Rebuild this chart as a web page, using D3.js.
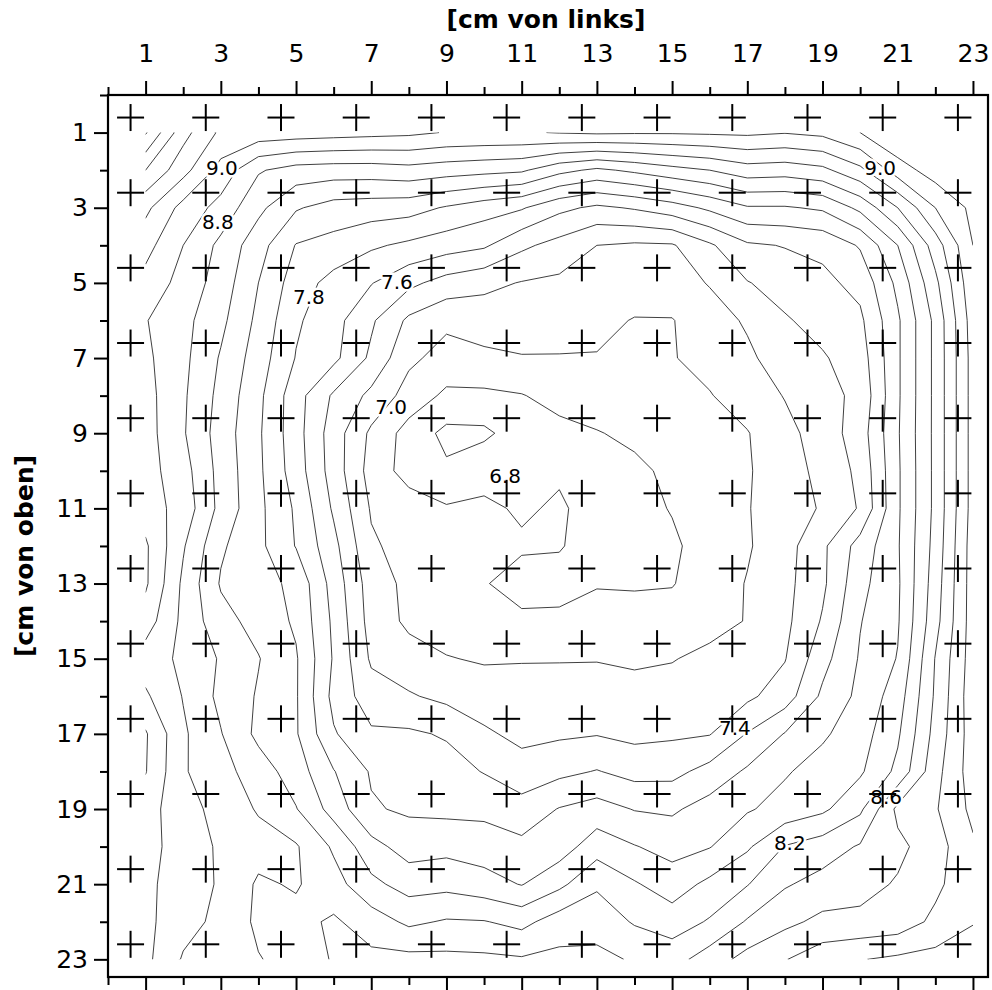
<!DOCTYPE html>
<html><head><meta charset="utf-8">
<script src="https://cdn.jsdelivr.net/npm/d3@7"></script>
<style>body{margin:0;background:#fff}</style>
</head><body>
<svg id="chart" width="992" height="990"></svg>
<script>
const gridX = [1,2,3,4,5,6,7,8,9,10,11,12,13,14,15,16,17,18,19,20,21,22,23];
const gridY = [1,2,3,4,5,6,7,8,9,10,11,12,13,14,15,16,17,18,19,20,21,22,23];
const row01=[10.02,9.47,9.16,9.12,9.1,9.08,9.06,9.04,8.99,8.98,8.98,9.01,9.03,9.02,9.02,9.03,9.04,9.01,9.05,9.2,9.4,9.3,9.35];
const row02=[9.6,9.27,8.93,8.62,8.52,8.5,8.5,8.53,8.49,8.46,8.43,8.26,8.16,8.24,8.33,8.4,8.51,8.49,8.55,8.75,9.1,9.3,9.25];
const row03=[9.25,8.93,8.73,8.45,8.22,8.12,8.1,8.08,7.98,7.89,7.82,7.65,7.56,7.62,7.71,7.84,7.98,7.98,8.03,8.25,8.6,9.0,9.25];
const row04=[9.07,8.8,8.55,8.28,7.99,7.93,7.83,7.76,7.69,7.63,7.44,7.33,7.2,7.17,7.18,7.37,7.57,7.61,7.65,7.82,8.2,8.7,9.2];
const row05=[8.93,8.73,8.51,8.2,7.9,7.73,7.61,7.45,7.32,7.25,7.19,7.16,7.13,7.1,7.13,7.21,7.39,7.48,7.55,7.66,8.05,8.55,9.15];
const row06=[8.81,8.66,8.45,8.15,7.83,7.67,7.43,7.16,7.04,7.09,7.09,7.08,7.05,6.99,6.99,7.13,7.22,7.38,7.47,7.56,7.97,8.45,9.1];
const row07=[8.84,8.65,8.38,8.1,7.79,7.65,7.36,7.04,6.93,6.96,6.99,6.99,6.99,6.98,6.99,7.06,7.17,7.28,7.38,7.5,7.97,8.45,9.08];
const row08=[8.87,8.63,8.34,8.05,7.68,7.37,7.15,6.92,6.76,6.76,6.79,6.87,6.9,6.91,6.96,6.99,7.09,7.21,7.33,7.45,7.97,8.45,9.08];
const row09=[8.88,8.62,8.31,8.03,7.68,7.3,6.96,6.72,6.55,6.56,6.7,6.74,6.79,6.84,6.88,6.94,6.99,7.14,7.29,7.5,7.98,8.45,9.08];
const row10=[8.88,8.68,8.33,8.04,7.7,7.31,6.92,6.72,6.63,6.74,6.79,6.78,6.72,6.76,6.84,6.92,6.98,7.12,7.25,7.45,7.97,8.45,9.08];
const row11=[8.9,8.72,8.34,8.05,7.77,7.37,6.98,6.9,6.82,6.83,6.78,6.82,6.74,6.74,6.81,6.9,6.99,7.1,7.22,7.42,7.97,8.45,9.08];
const row12=[9.03,8.62,8.23,8.05,7.79,7.46,7.03,6.92,6.88,6.82,6.82,6.81,6.74,6.72,6.77,6.88,6.98,7.12,7.36,7.68,7.98,8.47,9.1];
const row13=[9.03,8.56,8.18,8.08,7.95,7.52,7.1,6.95,6.88,6.81,6.74,6.75,6.79,6.78,6.79,6.9,7.01,7.14,7.36,7.74,7.97,8.5,9.1];
const row14=[8.9,8.55,8.27,8.13,7.97,7.56,7.12,6.96,6.91,6.86,6.83,6.83,6.86,6.88,6.88,6.93,7.01,7.15,7.42,7.79,7.98,8.53,9.1];
const row15=[8.7,8.56,8.38,8.21,8.02,7.58,7.17,7.08,7.01,6.98,6.99,6.99,6.99,6.97,6.99,7.05,7.12,7.19,7.53,7.82,8.01,8.61,9.1];
const row16=[8.83,8.59,8.35,8.18,8.02,7.54,7.29,7.22,7.15,7.1,7.07,7.08,7.1,7.07,7.08,7.12,7.16,7.3,7.64,7.85,8.1,8.63,9.12];
const row17=[9.02,8.63,8.41,8.15,8.02,7.62,7.43,7.43,7.38,7.23,7.15,7.17,7.19,7.15,7.17,7.19,7.41,7.61,7.77,7.91,8.17,8.67,9.1];
const row18=[9.01,8.62,8.47,8.3,8.1,7.81,7.58,7.5,7.48,7.39,7.28,7.35,7.41,7.33,7.34,7.47,7.63,7.78,7.88,7.97,8.25,8.73,9.1];
const row19=[8.88,8.68,8.53,8.38,8.21,7.92,7.62,7.57,7.55,7.55,7.48,7.61,7.68,7.59,7.57,7.68,7.78,7.87,7.96,8.16,8.65,8.78,9.05];
const row20=[8.87,8.71,8.57,8.48,8.42,8.17,7.87,7.71,7.74,7.7,7.65,7.7,7.91,7.81,7.73,7.79,7.97,8.21,8.3,8.42,8.55,8.71,8.97];
const row21=[8.85,8.69,8.58,8.37,8.42,8.28,8.05,7.92,7.94,7.88,7.79,7.95,8.17,8.02,7.9,8.05,8.19,8.38,8.47,8.53,8.62,8.75,8.96];
const row22=[8.85,8.67,8.55,8.36,8.34,8.43,8.3,8.16,8.22,8.21,8.14,8.3,8.32,8.18,8.1,8.22,8.42,8.55,8.65,8.65,8.68,8.85,8.99];
const row23=[8.85,8.58,8.5,8.41,8.33,8.41,8.45,8.46,8.45,8.44,8.42,8.45,8.45,8.38,8.32,8.5,8.67,8.79,8.92,8.99,9.04,9.07,9.1];
const grid=[row01,row02,row03,row04,row05,row06,row07,row08,row09,row10,row11,row12,row13,row14,row15,row16,row17,row18,row19,row20,row21,row22,row23];

const levels=[6.6,6.8,7.0,7.2,7.4,7.6,7.8,8.0,8.2,8.4,8.6,8.8,9.0,9.2,9.4,9.6,9.8,10.0];
const markerX=[0.6,2.6,4.6,6.6,8.6,10.6,12.6,14.6,16.6,18.6,20.6,22.6];
const markerY=[0.6,2.6,4.6,6.6,8.6,10.6,12.6,14.6,16.6,18.6,20.6,22.6];
const majorTicks=[1,3,5,7,9,11,13,15,17,19,21,23];
const minorTicks=[0,2,4,6,8,10,12,14,16,18,20,22];
const contourLabels=[
  {text:"9.0",x:3.03,y:1.94},{text:"8.8",x:2.92,y:3.38},{text:"7.8",x:5.34,y:5.38},
  {text:"7.6",x:7.68,y:4.98},{text:"7.0",x:7.53,y:8.30},{text:"6.8",x:10.56,y:10.14},
  {text:"7.4",x:16.67,y:16.84},{text:"8.6",x:20.69,y:18.68},{text:"8.2",x:18.13,y:19.90},
  {text:"9.0",x:20.53,y:1.94}];
const xTitle="[cm von links]", yTitle="[cm von oben]";

const svg=d3.select("#chart");
const x=d3.scaleLinear().domain([0,23.4]).range([108,988]);
const y=d3.scaleLinear().domain([0,23.47]).range([95,977]);
const n=gridX.length;
const cx=d3.scaleLinear().domain([0.5,n-0.5]).range([x(gridX[0]),x(gridX[n-1])]);
const cy=d3.scaleLinear().domain([0.5,n-0.5]).range([y(gridY[0]),y(gridY[n-1])]);

svg.append("defs").append("clipPath").attr("id","dataclip").append("rect")
  .attr("x",x(gridX[0])).attr("y",y(gridY[0]))
  .attr("width",x(gridX[n-1])-x(gridX[0])).attr("height",y(gridY[n-1])-y(gridY[0]));

const contours=d3.contours().size([n,n]).thresholds(levels)(grid.flat());
const proj=d3.geoTransform({point(px,py){this.stream.point(cx(px),cy(py));}});
const path=d3.geoPath(proj);
svg.append("g").attr("clip-path","url(#dataclip)")
  .selectAll("path").data(contours).join("path")
  .attr("d",path).attr("fill","none").attr("stroke","#2a2a2a").attr("stroke-width",0.9);

svg.append("g").selectAll("text").data(contourLabels).join("text")
  .attr("x",d=>x(d.x)).attr("y",d=>y(d.y)).attr("dy","0.36em")
  .attr("text-anchor","middle").attr("font-family","DejaVu Sans").attr("font-size",20)
  .attr("stroke","#fff").attr("stroke-width",5).attr("paint-order","stroke")
  .attr("fill","#000").text(d=>d.text);

const mk=svg.append("g").attr("stroke","#000").attr("stroke-width",2);
markerY.forEach(my=>markerX.forEach(mx=>{
  mk.append("line").attr("x1",x(mx)-13.5).attr("x2",x(mx)+13.5).attr("y1",y(my)).attr("y2",y(my));
  mk.append("line").attr("x1",x(mx)).attr("x2",x(mx)).attr("y1",y(my)-13.5).attr("y2",y(my)+13.5);
}));

function style(g){g.select(".domain").remove();g.selectAll("line").attr("stroke","#000").attr("stroke-width",2);}
svg.append("g").attr("transform","translate(0,95)")
  .call(d3.axisTop(x).tickValues(majorTicks).tickSize(14).tickPadding(19))
  .call(style).call(g=>g.selectAll("text").attr("font-family","DejaVu Sans").attr("font-size",25).attr("fill","#000"));
svg.append("g").attr("transform","translate(0,95)")
  .call(d3.axisTop(x).tickValues(minorTicks).tickSize(8).tickFormat(""))
  .call(style);
svg.append("g").attr("transform","translate(0,977)")
  .call(d3.axisBottom(x).tickValues(majorTicks).tickSize(14).tickFormat(""))
  .call(style);
svg.append("g").attr("transform","translate(0,977)")
  .call(d3.axisBottom(x).tickValues(minorTicks).tickSize(8).tickFormat(""))
  .call(style);
svg.append("g").attr("transform","translate(108,0)")
  .call(d3.axisLeft(y).tickValues(majorTicks).tickSize(14).tickPadding(6))
  .call(style).call(g=>g.selectAll("text").attr("font-family","DejaVu Sans").attr("font-size",25).attr("fill","#000"));
svg.append("g").attr("transform","translate(108,0)")
  .call(d3.axisLeft(y).tickValues(minorTicks).tickSize(8).tickFormat(""))
  .call(style);

svg.append("rect").attr("x",108).attr("y",95).attr("width",880).attr("height",882)
  .attr("fill","none").attr("stroke","#000").attr("stroke-width",2.2);

svg.append("text").attr("x",546).attr("y",28).attr("text-anchor","middle")
  .attr("font-family","DejaVu Sans").attr("font-weight","bold").attr("font-size",25).text(xTitle);
svg.append("text").attr("transform","translate(33,556) rotate(-90)").attr("text-anchor","middle")
  .attr("font-family","DejaVu Sans").attr("font-weight","bold").attr("font-size",25).text(yTitle);
</script>
</body></html>
